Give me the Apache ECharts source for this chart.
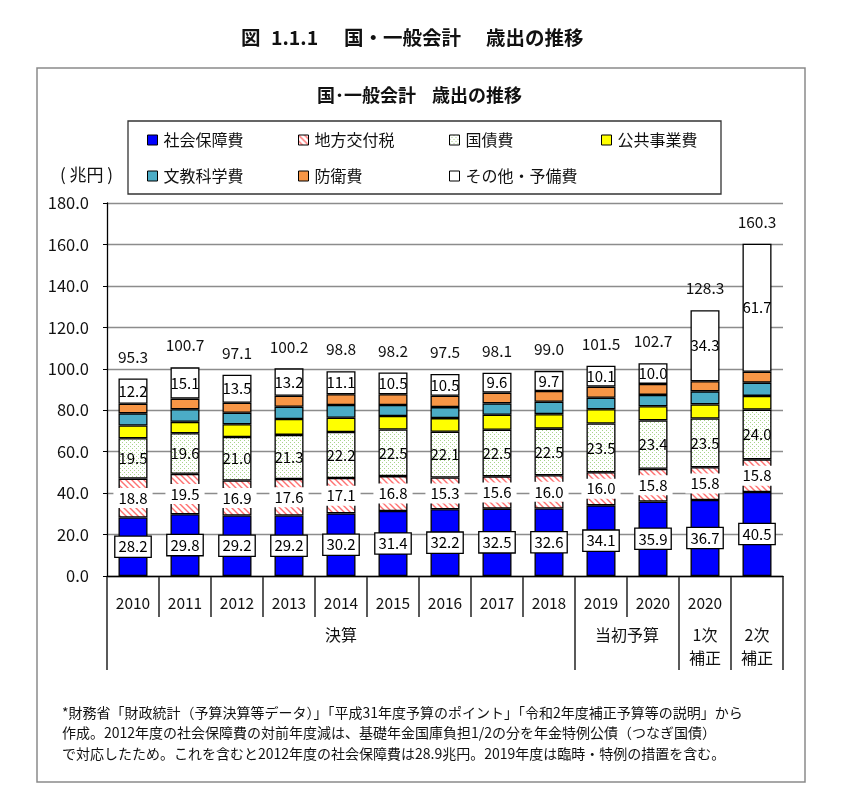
<!DOCTYPE html>
<html><head><meta charset="utf-8">
<script src="https://cdn.jsdelivr.net/npm/echarts@6/dist/echarts.min.js"></script>
<style>html,body{margin:0;padding:0;background:#fff}#c{width:844px;height:810px}</style>
</head><body><div id="c"></div>
<script>
const categories = ['2010','2011','2012','2013','2014','2015','2016','2017','2018','2019','2020','2020',''];
const groupLabels = ['決算','当初予算','1次\n補正','2次\n補正'];
const groupSpans = [9,2,1,1];

const shakaiHosho = [28.2,29.8,29.2,29.2,30.2,31.4,32.2,32.5,32.6,34.1,35.9,36.7,40.5];
const chihoKofu   = [18.8,19.5,16.9,17.6,17.1,16.8,15.3,15.6,16.0,16.0,15.8,15.8,15.8];
const kokusai     = [19.5,19.6,21.0,21.3,22.2,22.5,22.1,22.5,22.5,23.5,23.4,23.5,24.0];
const kokyoJigyo  = [6.1,5.5,6.1,7.7,6.9,6.5,6.6,7.2,7.0,6.9,6.8,6.8,6.6];
const bunkyo      = [5.9,6.1,5.6,5.9,6.1,5.3,5.3,5.5,6.0,5.5,5.5,6.3,6.4];
const boei        = [4.6,5.1,4.8,5.3,5.2,5.2,5.5,5.2,5.2,5.4,5.3,4.9,5.3];
const sonota      = [12.2,15.1,13.5,13.2,11.1,10.5,10.5,9.6,9.7,10.1,10.0,34.3,61.7];
const totals      = [95.3,100.7,97.1,100.2,98.8,98.2,97.5,98.1,99.0,101.5,102.7,128.3,160.3];

const FONT = 'Noto Sans CJK JP';

function hatchPattern(){
  const c = document.createElement('canvas'); c.width = 6; c.height = 6;
  const g = c.getContext('2d');
  g.fillStyle = '#fff'; g.fillRect(0,0,6,6);
  g.strokeStyle = '#ff7070'; g.lineWidth = 1.4;
  g.beginPath();
  g.moveTo(-1,-1); g.lineTo(7,7);
  g.moveTo(-4,2); g.lineTo(4,10);
  g.moveTo(2,-4); g.lineTo(10,4);
  g.stroke();
  return c;
}
function dotPattern(){
  const c = document.createElement('canvas'); c.width = 4; c.height = 4;
  const g = c.getContext('2d');
  g.fillStyle = '#fff'; g.fillRect(0,0,4,4);
  g.fillStyle = '#a8d48a';
  g.fillRect(0,0,1,1); g.fillRect(2,2,1,1);
  return c;
}

const chart = echarts.init(document.getElementById('c'), null, {renderer:'canvas'});
const fmt = p => Number(p.value).toFixed(1);
const baseItem = {borderColor:'#000', borderWidth:1.3};
function barSeries(name, data, color, label){
  return {name, type:'bar', stack:'a', data, barWidth:29, itemStyle:Object.assign({color}, baseItem),
    label: label || {show:false}, silent:true};
}
const legendCommon = {orient:'vertical', top:131, padding:0, itemWidth:10, itemHeight:10, itemGap:18, icon:'rect',
  itemStyle:{borderColor:'#000', borderWidth:1}, selectedMode:false,
  textStyle:{fontFamily:FONT, fontSize:16, color:'#111', lineHeight:18, padding:[0,0,0,1]}};

const option = {
  animation:false,
  textStyle:{fontFamily:FONT},
  grid:{left:107, right:61, top:203, bottom:234},
  legend:[
    Object.assign({left:147, data:['社会保障費','文教科学費']}, legendCommon),
    Object.assign({left:298, data:['地方交付税','防衛費']}, legendCommon),
    Object.assign({left:449, data:['国債費','その他・予備費']}, legendCommon),
    Object.assign({left:601, data:['公共事業費']}, legendCommon)
  ],
  xAxis:{type:'category', data:categories, axisLine:{lineStyle:{color:'#000', width:1.3}},
    axisTick:{show:false}, axisLabel:{fontFamily:FONT, fontSize:15.5, color:'#111', margin:19, interval:0}},
  yAxis:{type:'value', min:0, max:180, interval:20,
    axisLine:{show:true, lineStyle:{color:'#000', width:1.3}},
    axisTick:{show:true, length:4, lineStyle:{color:'#000'}},
    splitLine:{lineStyle:{color:'#8c8c8c', width:1.3}},
    axisLabel:{fontFamily:FONT, fontSize:16.5, color:'#111', margin:18, formatter:v=>v.toFixed(1)}},
  series:[
    barSeries('社会保障費', shakaiHosho, '#0000ff', {show:true, position:'inside', formatter:fmt,
      fontFamily:FONT, fontSize:15, color:'#000', backgroundColor:'#fff', borderColor:'#000', borderWidth:1.3, padding:[3,3,2,3]}),
    barSeries('地方交付税', chihoKofu, {image:hatchPattern(), repeat:'repeat'}, {show:true, position:'inside', formatter:fmt,
      fontFamily:FONT, fontSize:15, color:'#000', backgroundColor:'#fff', padding:[3,5,2,5]}),
    barSeries('国債費', kokusai, {image:dotPattern(), repeat:'repeat'}, {show:true, position:'inside', formatter:fmt,
      fontFamily:FONT, fontSize:15, color:'#000'}),
    barSeries('公共事業費', kokyoJigyo, '#ffff00'),
    barSeries('文教科学費', bunkyo, '#4bacc6'),
    barSeries('防衛費', boei, '#f79646'),
    barSeries('その他・予備費', sonota, '#ffffff', {show:true, position:'inside', formatter:fmt,
      fontFamily:FONT, fontSize:15, color:'#000'}),
    {name:'合計', type:'line', data:totals, symbol:'circle', symbolSize:2, showSymbol:true,
      itemStyle:{color:'rgba(0,0,0,0)'}, lineStyle:{width:0, color:'rgba(0,0,0,0)'}, silent:true, z:5,
      label:{show:true, position:'top', distance:13, formatter:fmt, fontFamily:FONT, fontSize:15.5, color:'#111'}}
  ],
  graphic:[
    {type:'text', x:241, y:38, style:{text:'図', font:'bold 19.5px "'+FONT+'"', fill:'#111', verticalAlign:'middle'}},
    {type:'text', x:271, y:38, style:{text:'1.1.1', font:'bold 19.5px "'+FONT+'"', fill:'#111', verticalAlign:'middle'}},
    {type:'text', x:344, y:38, style:{text:'国・一般会計', font:'bold 19.5px "'+FONT+'"', fill:'#111', verticalAlign:'middle'}},
    {type:'text', x:486, y:38, style:{text:'歳出の推移', font:'bold 19.5px "'+FONT+'"', fill:'#111', verticalAlign:'middle'}},
    {type:'rect', shape:{x:37, y:68, width:768, height:714}, style:{fill:'none', stroke:'#8a8a8a', lineWidth:1.5}},
    {type:'text', x:317, y:95, style:{text:'国･一般会計', font:'bold 18px "'+FONT+'"', fill:'#111', verticalAlign:'middle'}},
    {type:'text', x:432, y:95, style:{text:'歳出の推移', font:'bold 18px "'+FONT+'"', fill:'#111', verticalAlign:'middle'}},
    {type:'rect', shape:{x:128, y:121, width:593, height:73}, style:{fill:'none', stroke:'#333', lineWidth:1.3}},
    {type:'text', x:60, y:175, style:{text:'( 兆円 )', font:'17px "'+FONT+'"', fill:'#111', verticalAlign:'middle'}},
    {type:'text', x:62, y:702, style:{text:'*財務省「財政統計（予算決算等データ）」「平成31年度予算のポイント」「令和2年度補正予算等の説明」から\n作成。2012年度の社会保障費の対前年度減は、基礎年金国庫負担1/2の分を年金特例公債（つなぎ国債）\nで対応したため。これを含むと2012年度の社会保障費は28.9兆円。2019年度は臨時・特例の措置を含む。',
      font:'14px "'+FONT+'"', fill:'#111', lineHeight:20.5}}
  ]
};
chart.setOption(option);

// category table below the axis, positioned through the axis scales
const c0 = chart.convertToPixel({xAxisIndex:0}, 0);
const c1 = chart.convertToPixel({xAxisIndex:0}, 1);
const bw = c1 - c0;
const yBase = chart.convertToPixel({yAxisIndex:0}, 0);
const boundaries = [0];
groupSpans.reduce((a,s)=>{boundaries.push(a+s); return a+s;}, 0);
const extra = [];
for (let i = 0; i <= categories.length; i++) {
  const bx = c0 - bw/2 + i*bw;
  const long = boundaries.indexOf(i) >= 0;
  extra.push({type:'line', shape:{x1:bx, y1:yBase, x2:bx, y2:yBase + (long ? 94 : 41)}, style:{stroke:'#000', lineWidth:1.3}});
}
let start = 0;
groupLabels.forEach((g, k) => {
  const mid = c0 - bw/2 + (start + groupSpans[k]/2) * bw;
  extra.push({type:'text', x:mid, y:yBase + 47, style:{text:g, font:'16px "'+FONT+'"', fill:'#111', align:'center', verticalAlign:'top', lineHeight:23}});
  start += groupSpans[k];
});
chart.setOption({graphic: option.graphic.concat(extra)});
</script></body></html>
